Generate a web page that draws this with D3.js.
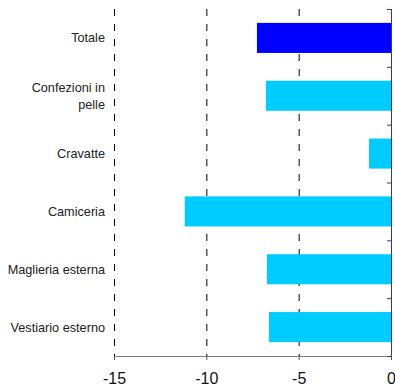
<!DOCTYPE html>
<html>
<head>
<meta charset="utf-8">
<script src="https://cdn.jsdelivr.net/npm/d3@7"></script>
<style>
body { margin: 0; background: #fff; }
text { font-family: "Liberation Sans", Arial, sans-serif; }
</style>
</head>
<body>
<div id="chart"></div>
<script>
// categories top to bottom
var categories = ["Totale", "Confezioni in pelle", "Cravatte", "Camiceria", "Maglieria esterna", "Vestiario esterno"];
// label lines (wrapped as in the original)
var labelLines = [["Totale"], ["Confezioni in", "pelle"], ["Cravatte"], ["Camiceria "], ["Maglieria esterna"], ["Vestiario esterno"]];
var values = [-7.26, -6.78, -1.19, -11.17, -6.72, -6.61];
var xTicks = [-15, -10, -5, 0];

var size = { width: 395, height: 387 };
var margin = { top: 9, right: 4, bottom: 31, left: 114 };
var inner_width = size.width - margin.left - margin.right;
var inner_height = size.height - margin.top - margin.bottom;

var svg = d3.select("#chart").append("svg")
	.attr("width", size.width)
	.attr("height", size.height);

var g = svg.append("g")
	.attr("transform", "translate(" + margin.left + "," + margin.top + ")");

var x = d3.scaleLinear()
	.domain([-15, 0])
	.range([0, inner_width]);

var y = d3.scaleBand()
	.domain(categories)
	.range([0, inner_height])
	.paddingInner(0.48)
	.paddingOuter(0.24);

var yb = d3.scaleBand()
	.domain(categories)
	.range([0, inner_height]);

// dashed grid lines
g.selectAll(".grid")
	.data(xTicks.filter(function(d) { return d !== 0; }))
	.enter()
	.append("line")
	.attr("x1", function(d) { return x(d) + 0.5; })
	.attr("x2", function(d) { return x(d) + 0.5; })
	.attr("y1", 0)
	.attr("y2", inner_height)
	.attr("stroke", "#000")
	.attr("stroke-width", 1)
	.attr("stroke-dasharray", "7,8");

// bars
g.selectAll(".bar")
	.data(categories)
	.enter()
	.append("rect")
	.attr("x", function(d, i) { return x(values[i]); })
	.attr("y", function(d) { return y(d); })
	.attr("width", function(d, i) { return x(0) - x(values[i]); })
	.attr("height", y.bandwidth())
	.attr("fill", function(d, i) { return i === 0 ? "#0000FF" : "#00CCFF"; });

// bottom axis
var x_axis = d3.axisBottom(x)
	.tickValues(xTicks)
	.tickSize(4)
	.tickPadding(13)
	.tickFormat(d3.format("d"));

var xg = g.append("g")
	.attr("transform", "translate(0," + inner_height + ")")
	.call(x_axis);
xg.select(".domain").attr("stroke", "#808080");
xg.selectAll(".tick line").attr("stroke", "#555");
xg.selectAll(".tick text")
	.attr("fill", "#111")
	.style("font-size", "16px")
	.style("font-family", "Liberation Sans, Arial, sans-serif")
	.text(function(d) { return d === 0 ? "0" : String(d); });

// right-side category axis at zero
var boundaries = categories.map(function(d) { return yb(d); }).concat([inner_height]);
g.append("line")
	.attr("x1", x(0) + 0.5)
	.attr("x2", x(0) + 0.5)
	.attr("y1", 0)
	.attr("y2", inner_height)
	.attr("stroke", "#333399");
g.selectAll(".ytick")
	.data(boundaries)
	.enter()
	.append("line")
	.attr("x1", x(0) - 4)
	.attr("x2", x(0))
	.attr("y1", function(d) { return d + 0.5; })
	.attr("y2", function(d) { return d + 0.5; })
	.attr("stroke", "#333399");

// category labels
labelLines.forEach(function(lines, i) {
	var cy = yb(categories[i]) + yb.bandwidth() / 2;
	var t = g.append("text")
		.attr("text-anchor", "end")
		.attr("fill", "#222")
		.style("font-size", "12.7px");
	lines.forEach(function(line, j) {
		t.append("tspan")
			.attr("x", -9)
			.attr("y", cy + 4.5 + (j - (lines.length - 1) / 2) * 17)
			.text(line);
	});
});
</script>
</body>
</html>
